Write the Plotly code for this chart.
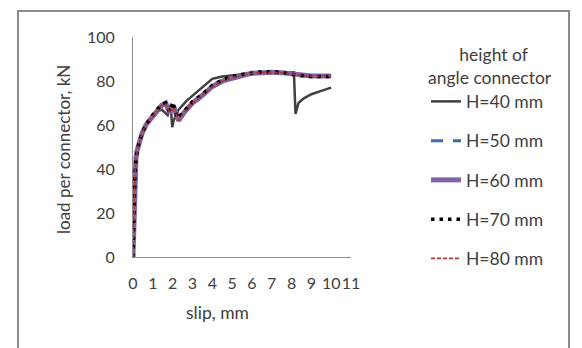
import plotly.graph_objects as go

# ---- data (slip in mm, load per connector in kN) ----
slip_h40 = [0, 0.03, 0.06, 0.1, 0.15, 0.2, 0.3, 0.45, 0.65, 0.9, 1.2, 1.45, 1.6, 1.75,
            1.9, 1.98, 2.05, 2.3, 2.7, 3.2, 3.7, 4.0, 4.5, 5.0, 5.5, 6.0, 6.5, 7.0,
            7.5, 8.0, 8.12, 8.2, 8.35, 8.6, 9.0, 9.5, 10.0]
load_h40 = [0, 15, 28, 38, 45, 48, 52, 56, 60, 63, 66, 67, 65.5, 64.5,
            69, 59, 62, 67, 71, 75, 79, 81, 82, 82.5, 83, 83.5, 84, 84,
            84, 84, 84, 65, 70, 72, 74, 75.5, 77]

slip_h50 = [0, 0.03, 0.06, 0.1, 0.15, 0.2, 0.3, 0.45, 0.65, 0.9, 1.2, 1.45, 1.65, 1.85,
            2.05, 2.3, 2.6, 3.0, 3.5, 4.0, 4.5, 5.0, 5.5, 6.0, 6.5, 7.0, 7.5, 8.0,
            8.5, 9.0, 9.5, 10.0]
load_h50 = [0, 15, 28, 38, 45, 48, 52, 56, 60, 63, 66.5, 68.5, 69.5, 65.5,
            68, 62, 65.5, 69.5, 73, 77, 79.5, 81, 82.3, 83.3, 83.8, 83.8, 83.5, 83,
            82.3, 82.0, 82.0, 82.0]

slip_h60 = [0, 0.03, 0.06, 0.1, 0.15, 0.2, 0.3, 0.45, 0.65, 0.9, 1.2, 1.45, 1.65, 1.85,
            2.05, 2.3, 2.6, 3.0, 3.5, 4.0, 4.5, 5.0, 5.5, 6.0, 6.5, 7.0, 7.5, 8.0,
            8.5, 9.0, 9.5, 10.0]
load_h60 = [0, 15, 28, 38, 45, 48, 52, 56, 60, 63, 66.5, 69, 70, 65.5,
            68.5, 62, 66, 70, 73.5, 77.5, 80, 81.5, 82.5, 83.5, 84, 84, 83.8, 83.2,
            82.5, 82.3, 82.3, 82.3]

slip_h70 = [0, 0.03, 0.06, 0.1, 0.15, 0.2, 0.3, 0.45, 0.65, 0.9, 1.2, 1.45, 1.65, 1.85,
            2.0, 2.25, 2.6, 3.0, 3.5, 4.0, 4.5, 5.0, 5.5, 6.0, 6.5, 7.0, 7.5, 8.0,
            8.5, 9.0, 9.5, 10.0]
load_h70 = [0, 15, 28, 38, 45, 48, 52, 56, 60, 63.5, 67, 69.5, 70, 66,
            70.5, 63, 66.5, 70.5, 74, 78, 80.5, 82, 83, 83.8, 84.2, 84.2, 84, 83,
            82.5, 82, 82, 82]

slip_h80 = [0, 0.03, 0.06, 0.1, 0.15, 0.2, 0.3, 0.45, 0.65, 0.9, 1.2, 1.45, 1.65, 1.85,
            2.05, 2.3, 2.6, 3.0, 3.5, 4.0, 4.5, 5.0, 5.5, 6.0, 6.5, 7.0, 7.5, 8.0,
            8.5, 9.0, 9.5, 10.0]
load_h80 = [0, 15, 28, 38, 45, 48, 52, 56, 60, 63, 66.5, 69, 69.5, 65.5,
            68, 62, 66, 70, 73.5, 77.5, 80, 81.5, 82.5, 83.5, 84, 84, 83.8, 83.2,
            82.5, 82.3, 82.3, 82.3]

series_names = ["H=40 mm", "H=50 mm", "H=60 mm", "H=70 mm", "H=80 mm"]
x_ticks = list(range(0, 12))
y_ticks = [0, 20, 40, 60, 80, 100]

FONT = "Lato"
TXT = "#404040"

styles = [
    dict(color="#404040", width=2.5, dash="solid"),
    dict(color="#3d6ea8", width=3, dash="12px,10px"),
    dict(color="#8064a2", width=5, dash="solid"),
    dict(color="#000000", width=3.5, dash="3.5px,5px"),
    dict(color="#b03a3a", width=1.6, dash="4px,2px"),
]
data = [(slip_h40, load_h40), (slip_h50, load_h50), (slip_h60, load_h60),
        (slip_h70, load_h70), (slip_h80, load_h80)]

fig = go.Figure()
for i, ((xs, ys), name, st) in enumerate(zip(data, series_names, styles)):
    line = dict(color=st["color"], width=st["width"], dash=st["dash"])
    fig.add_trace(go.Scatter(x=xs, y=ys, mode="lines", name=name, line=line,
                             legendgroup=f"g{i}", cliponaxis=False))

pad = "&nbsp;" * 7
fig.update_layout(
    width=582, height=348,
    margin=dict(l=133, r=231, t=37, b=91),
    paper_bgcolor="white", plot_bgcolor="white",
    font=dict(family=FONT, size=17, color=TXT),
    showlegend=True,
    legend=dict(
        xref="container", yref="container",
        x=426 / 582, y=1 - 38 / 348, xanchor="left", yanchor="top",
        title=dict(text=pad + "height of<br>angle connector", side="top",
                   font=dict(family=FONT, size=17.5, color=TXT)),
        font=dict(family=FONT, size=17.5, color=TXT),
        tracegroupgap=13.5,
        maxheight=340,
        bgcolor="rgba(0,0,0,0)",
    ),
    xaxis=dict(range=[0, 11], tickvals=x_ticks, ticktext=[str(v) for v in x_ticks],
               tickangle=0,
               showgrid=False, zeroline=False, showline=True, linecolor="#8c8c8c",
               linewidth=1, ticks="", ticklabelstandoff=12,
               tickfont=dict(family=FONT, size=16, color=TXT)),
    yaxis=dict(range=[0, 100], tickvals=y_ticks, showgrid=False, zeroline=False,
               showline=True, linecolor="#8c8c8c", linewidth=1, ticks="",
               ticklabelstandoff=14, tickfont=dict(family=FONT, size=16, color=TXT)),
    annotations=[
        dict(text="slip, mm", xref="paper", yref="paper", x=(217 - 133) / 218,
             y=(257 - 313) / 220, showarrow=False, xanchor="center", yanchor="middle",
             font=dict(family=FONT, size=17.5, color=TXT)),
        dict(text="load per connector, kN", xref="paper", yref="paper",
             x=(63 - 133) / 218, y=(257 - 150) / 220, textangle=-90, showarrow=False,
             xanchor="center", yanchor="middle",
             font=dict(family=FONT, size=17, color=TXT)),
    ],
    shapes=[
        dict(type="rect", xref="paper", yref="paper", layer="below",
             x0=(18 - 133) / 218, x1=(569 - 133) / 218,
             y0=(257 - 360) / 220, y1=(257 - 11) / 220,
             line=dict(color="#8c8c8c", width=2), fillcolor="rgba(0,0,0,0)"),
    ],
)

fig.write_html("out.html")
